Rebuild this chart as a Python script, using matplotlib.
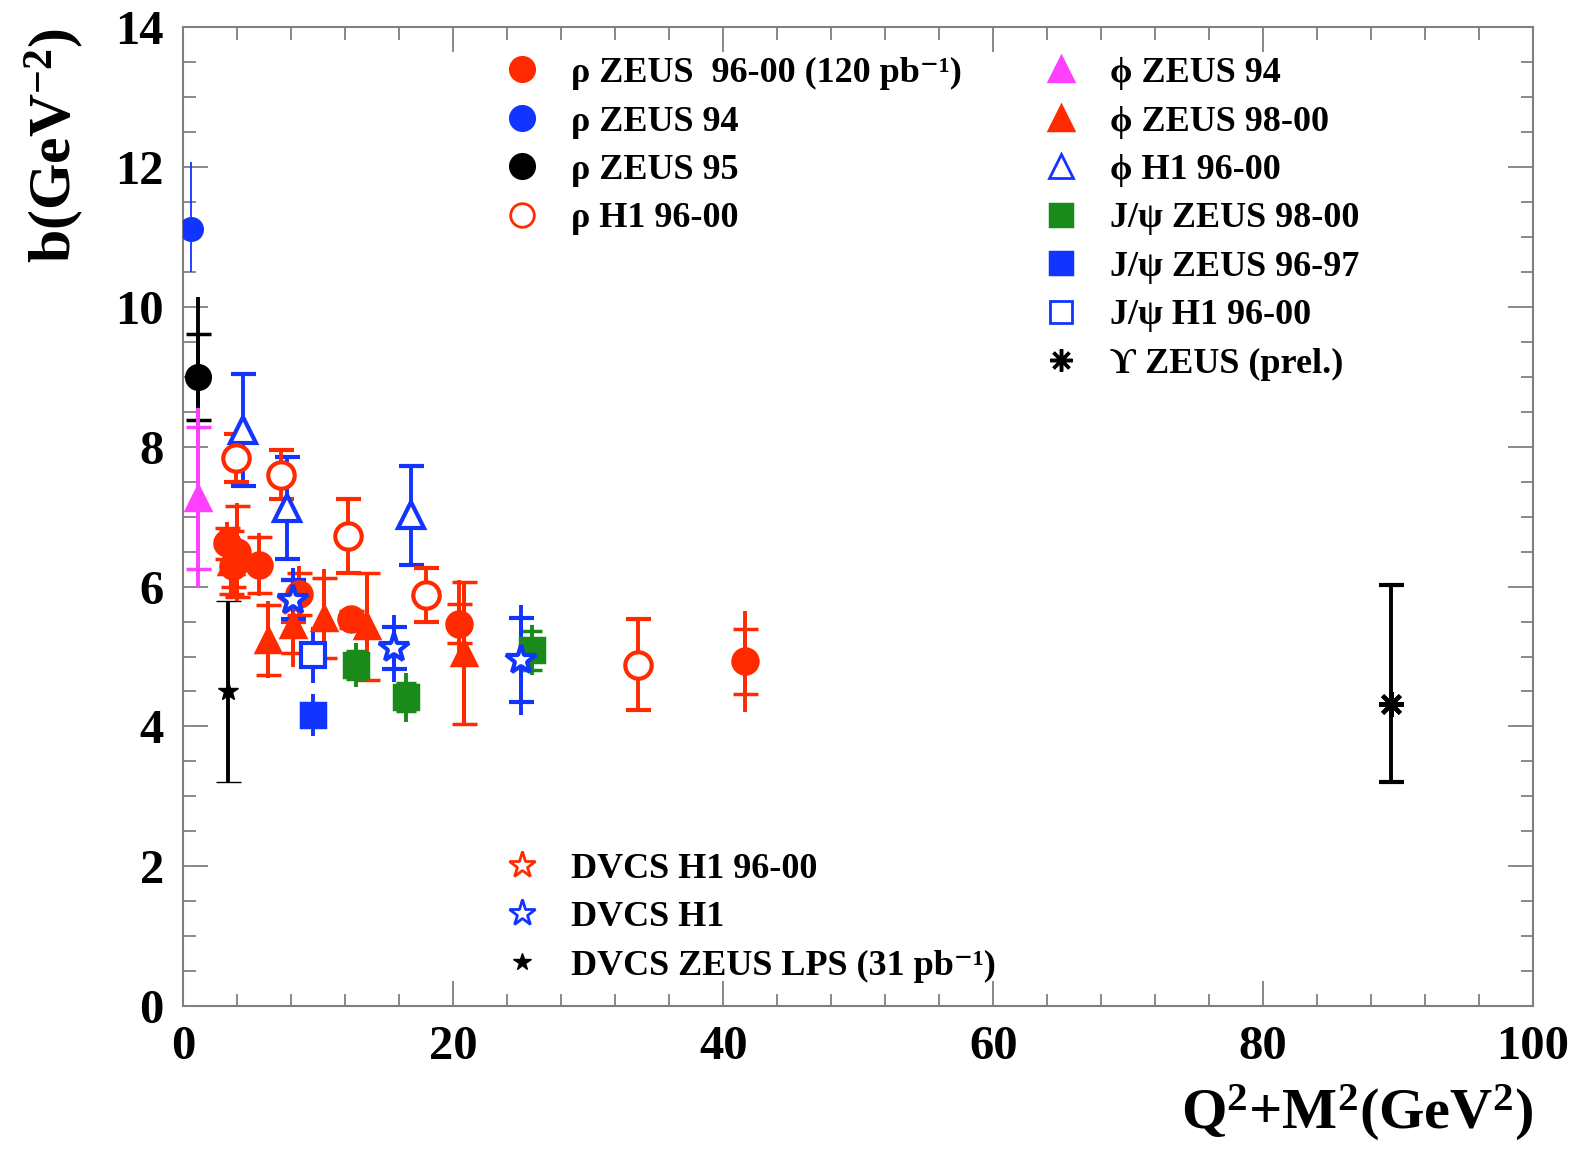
import matplotlib
matplotlib.use('Agg')
import matplotlib.pyplot as plt
from matplotlib.lines import Line2D
from matplotlib.ticker import MultipleLocator

# colours
RED = '#ff2a00'
BLUE = '#1234ff'
MAG = '#ff40ff'
GREEN = '#1a8a1a'
BLACK = 'black'

# rho ZEUS 96-00 (120 pb-1)
rho_z00_x = [3.2, 3.7, 4.0, 5.6, 8.6, 12.4, 20.4, 41.6]
rho_z00_y = [6.62, 6.30, 6.50, 6.31, 5.90, 5.53, 5.47, 4.93]
rho_z00_stat = [0.22, 0.30, 0.65, 0.40, 0.30, 0.12, 0.28, 0.47]
rho_z00_tot = [0.30, 0.40, 0.70, 0.45, 0.40, 0.18, 0.62, 0.72]

# rho ZEUS 94
rho_z94_x = [0.6]
rho_z94_y = [11.12]
rho_z94_up = [0.95]
rho_z94_dn = [0.62]

# rho ZEUS 95
rho_z95_x = [1.1]
rho_z95_y = [9.0]
rho_z95_stat = [0.62]
rho_z95_up = [1.15]
rho_z95_dn = [0.70]

# rho H1 96-00
rho_h1_x = [3.9, 7.2, 12.2, 18.0, 33.7]
rho_h1_y = [7.84, 7.60, 6.72, 5.88, 4.88]
rho_h1_err = [0.34, 0.35, 0.53, 0.38, 0.65]

# phi ZEUS 94
phi_z94_x = [1.1]
phi_z94_y = [7.27]
phi_z94_stat = [1.02]
phi_z94_tot = [1.28]

# phi ZEUS 98-00
phi_z00_x = [3.5, 6.3, 8.1, 10.4, 13.6, 20.8]
phi_z00_y = [6.35, 5.24, 5.45, 5.55, 5.43, 5.05]
phi_z00_stat = [0.45, 0.50, 0.40, 0.57, 0.77, 1.02]
phi_z00_tot = [0.50, 0.55, 0.60, 0.70, 0.77, 1.02]

# phi H1 96-00
phi_h1_x = [4.4, 7.7, 16.9]
phi_h1_y = [8.24, 7.12, 7.02]
phi_h1_err = [0.80, 0.73, 0.71]

# J/psi ZEUS 98-00
jpsi_z00_x = [12.8, 16.5, 25.8]
jpsi_z00_y = [4.88, 4.42, 5.09]
jpsi_z00_stat = [0.20, 0.20, 0.28]
jpsi_z00_tot = [0.32, 0.35, 0.36]

# J/psi ZEUS 96-97
jpsi_z97_x = [9.6]
jpsi_z97_y = [4.16]
jpsi_z97_err = [0.30]

# J/psi H1 96-00
jpsi_h1_x = [9.6]
jpsi_h1_y = [5.02]
jpsi_h1_err = [0.40]

# Upsilon ZEUS (prel.)
ups_x = [89.5]
ups_y = [4.32]
ups_up = [1.70]
ups_dn = [1.11]

# DVCS
dvcs_h100_x = [8.1]
dvcs_h100_y = [5.80]
dvcs_h100_err = [0.30]

dvcs_h1_x = [8.1, 15.6, 25.0]
dvcs_h1_y = [5.81, 5.12, 4.95]
dvcs_h1_stat = [0.28, 0.30, 0.60]
dvcs_h1_tot = [0.45, 0.48, 0.78]

dvcs_zeus_x = [3.3]
dvcs_zeus_y = [4.50]
dvcs_zeus_err = [1.30]

plt.rcParams['font.family'] = ['Liberation Serif', 'DejaVu Serif']
plt.rcParams['font.weight'] = 'bold'
plt.rcParams['mathtext.fontset'] = 'custom'
plt.rcParams['mathtext.rm'] = 'Liberation Serif:bold'
plt.rcParams['mathtext.it'] = 'Liberation Serif:italic:bold'
plt.rcParams['mathtext.bf'] = 'Liberation Serif:bold'

LW = 2.8
CAP = 9


def points(ax, x, y, stat, up, dn, color, marker, ms, mfc, lw=LW, cap=CAP, mew=2.5, z=3):
    # total error without caps, stat error with caps
    if up is not None:
        ax.errorbar(x, y, yerr=[dn, up], fmt='none', ecolor=color, elinewidth=lw, capsize=0, zorder=z)
    ax.errorbar(x, y, yerr=stat, ls='none', marker=marker, color=color, ms=ms, mfc=mfc, mec=color,
                mew=mew, elinewidth=lw, capsize=cap, capthick=lw, zorder=z)


fig = plt.figure(figsize=(15.89, 11.53), dpi=100)
ax = fig.add_axes([0.1154, 0.1275, 0.8494, 0.8487])

ax.errorbar(rho_z94_x, rho_z94_y, yerr=[rho_z94_dn, rho_z94_up], fmt='o', color=BLUE, ms=17,
            elinewidth=1.3, capsize=0, zorder=3)
points(ax, rho_z95_x, rho_z95_y, rho_z95_stat, rho_z95_up, rho_z95_dn, BLACK, 'o', 17, BLACK)
points(ax, phi_z94_x, phi_z94_y, phi_z94_stat, phi_z94_tot, phi_z94_tot, MAG, '^', 17, MAG)
points(ax, dvcs_zeus_x, dvcs_zeus_y, dvcs_zeus_err, None, None, BLACK, '*', 15, BLACK, mew=1)
points(ax, phi_h1_x, phi_h1_y, phi_h1_err, None, None, BLUE, '^', 19, 'white', mew=3)
points(ax, rho_h1_x, rho_h1_y, rho_h1_err, None, None, RED, 'o', 19, 'white', mew=3)
points(ax, phi_z00_x, phi_z00_y, phi_z00_stat, phi_z00_tot, phi_z00_tot, RED, '^', 17, RED)
points(ax, rho_z00_x, rho_z00_y, rho_z00_stat, rho_z00_tot, rho_z00_tot, RED, 'o', 18, RED)
points(ax, jpsi_z00_x, jpsi_z00_y, jpsi_z00_stat, jpsi_z00_tot, jpsi_z00_tot, GREEN, 's', 17, GREEN, cap=7)
points(ax, jpsi_z97_x, jpsi_z97_y, jpsi_z97_err, None, None, BLUE, 's', 17, BLUE, cap=0)
points(ax, jpsi_h1_x, jpsi_h1_y, jpsi_h1_err, None, None, BLUE, 's', 17, 'white', cap=0, mew=3)
points(ax, dvcs_h100_x, dvcs_h100_y, dvcs_h100_err, None, None, RED, '*', 22, 'white', mew=3)
points(ax, dvcs_h1_x, dvcs_h1_y, dvcs_h1_stat, dvcs_h1_tot, dvcs_h1_tot, BLUE, '*', 22, 'white', mew=3)
ax.errorbar(ups_x, ups_y, yerr=[ups_dn, ups_up], ls='none', marker=(8, 2, 0), color=BLACK, ms=18,
            mew=3, elinewidth=LW, capsize=CAP, capthick=LW, zorder=3)

ax.set_xlim(0, 100)
ax.set_ylim(0, 14)
ax.xaxis.set_major_locator(MultipleLocator(20))
ax.xaxis.set_minor_locator(MultipleLocator(4))
ax.yaxis.set_major_locator(MultipleLocator(2))
ax.yaxis.set_minor_locator(MultipleLocator(0.5))
ax.tick_params(which='both', direction='in', top=True, right=True, color='#808080', width=1.3)
ax.tick_params(which='major', length=18, labelsize=35, pad=14)
ax.tick_params(which='minor', length=9)
for s in ax.spines.values():
    s.set_color('#808080')
    s.set_linewidth(1.5)
for lab in ax.get_xticklabels() + ax.get_yticklabels():
    lab.set_fontweight('bold')

ax.set_xlabel(r'Q$^{2}$+M$^{2}$(GeV$^{2}$)', fontsize=42, fontweight='bold', loc='right')
ax.xaxis.set_label_coords(1.0, -0.078)
ax.set_ylabel(r'b(GeV$^{-2}$)', fontsize=43, fontweight='bold', loc='top')
ax.yaxis.set_label_coords(-0.072, 1.0)


def key(marker, color, mfc, ms=17, mew=2.5):
    return Line2D([], [], ls='none', marker=marker, color=color, mfc=mfc, mec=color, ms=ms, mew=mew)


leg_kw = dict(frameon=False, fontsize=26, handlelength=1.0, handletextpad=0.85,
              labelspacing=0.42, borderpad=0, borderaxespad=0, loc='upper left')

h1 = [key('o', RED, RED), key('o', BLUE, BLUE), key('o', BLACK, BLACK), key('o', RED, 'white', mew=2)]
l1 = ['ρ ZEUS  96-00 (120 pb⁻¹)', 'ρ ZEUS 94', 'ρ ZEUS 95', 'ρ H1 96-00']
leg1 = ax.legend(h1, l1, bbox_to_anchor=(0.2376, 0.970), **leg_kw)
ax.add_artist(leg1)

h2 = [key('^', MAG, MAG), key('^', RED, RED), key('^', BLUE, 'white', mew=2),
      key('s', GREEN, GREEN, ms=16), key('s', BLUE, BLUE, ms=16), key('s', BLUE, 'white', ms=16, mew=2),
      key((8, 2, 0), BLACK, BLACK, ms=16, mew=2.5)]
l2 = ['ϕ ZEUS 94', 'ϕ ZEUS 98-00', 'ϕ H1 96-00', 'J/ψ ZEUS 98-00', 'J/ψ ZEUS 96-97',
      'J/ψ H1 96-00', 'ϒ ZEUS (prel.)']
leg2 = ax.legend(h2, l2, bbox_to_anchor=(0.637, 0.970), **leg_kw)
ax.add_artist(leg2)

h3 = [key('*', RED, 'white', ms=20, mew=2), key('*', BLUE, 'white', ms=20, mew=2), key('*', BLACK, BLACK, ms=13, mew=1)]
l3 = ['DVCS H1 96-00', 'DVCS H1', 'DVCS ZEUS LPS (31 pb⁻¹)']
ax.legend(h3, l3, bbox_to_anchor=(0.2376, 0.157), **leg_kw)

fig.savefig('out.png', dpi=100)
